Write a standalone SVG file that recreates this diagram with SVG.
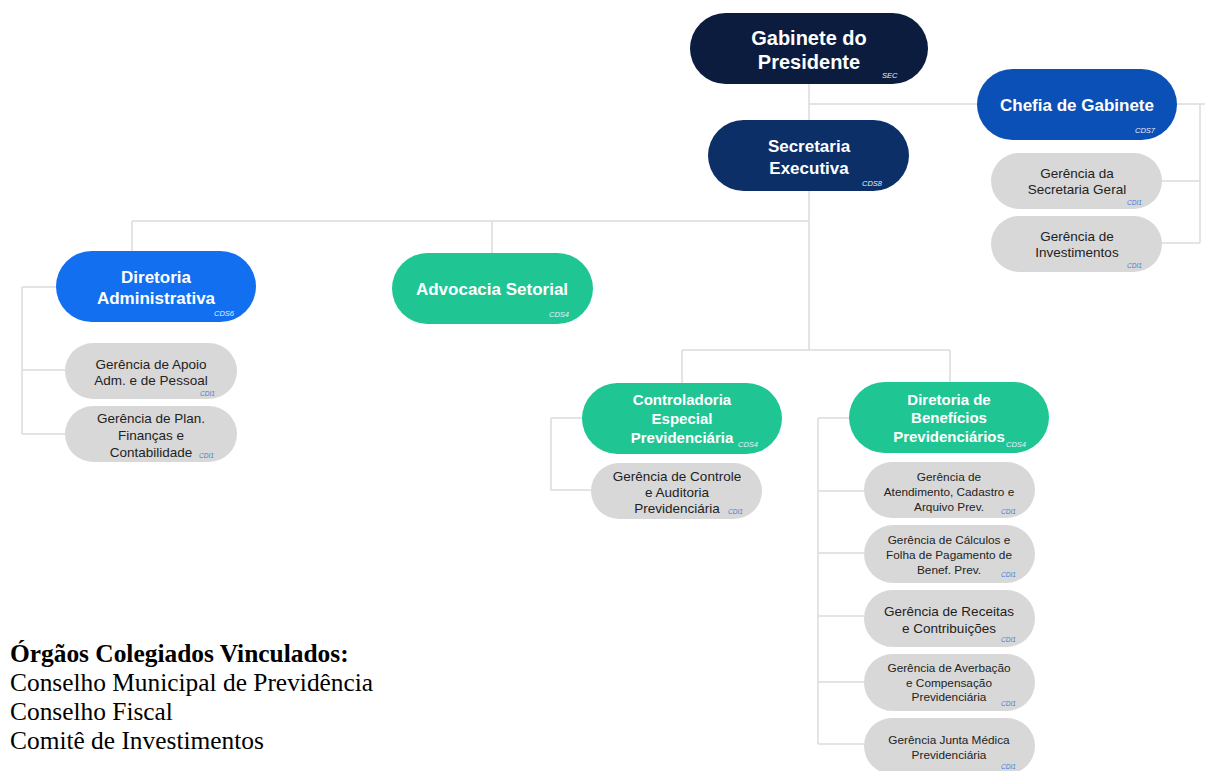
<svg xmlns="http://www.w3.org/2000/svg" width="1205" height="771" viewBox="0 0 1205 771">
<style>
.t{font-family:"Liberation Sans",Arial,sans-serif;font-weight:bold;fill:#fff;text-anchor:middle}
.g{font-family:"Liberation Sans",Arial,sans-serif;fill:#222;text-anchor:middle;font-size:13.5px}
.s{font-size:11.8px}
.c{font-family:"Liberation Sans",Arial,sans-serif;font-style:italic;font-size:7.5px;fill:#e8eefc}
.ci{font-family:"Liberation Sans",Arial,sans-serif;font-style:italic;font-size:6.5px;fill:#3b7fd8}
.ln{stroke:#dcdcdc;stroke-width:1.5;fill:none}
.gray{fill:#d8d8d8}
.green{fill:#1fc694}
.leg{font-family:"Liberation Serif","Times New Roman",serif;font-size:25.4px;fill:#000}
</style>
<rect width="1205" height="771" fill="#fff"/>
<g id="connectors" class="ln">
<path d="M809 84V120M809 104H977M1177 104H1205M1162 181H1200M1162 243H1200M1200 104V243"/>
<path d="M809 191V350M132 221H809M132 221V251M492 221V253"/>
<path d="M22 287H56M22 287V434M22 370H65M22 434H65"/>
<path d="M682 350H950M682 350V383M950 350V382"/>
<path d="M551 418H582M551 418V490H591"/>
<path d="M818 418H849M818 418V744M818 491H864M818 553H864M818 616H864M818 682H864M818 744H864"/>
</g>
<g id="gabinete">
<rect x="690" y="13" width="238" height="71" rx="35.5" fill="#0b1c3e"/>
<text class="t" font-size="20" x="809" y="45">Gabinete do</text>
<text class="t" font-size="20" x="809" y="69">Presidente</text>
<text class="c" x="882" y="78">SEC</text>
</g>
<g id="chefia">
<rect x="977" y="69" width="200" height="71" rx="35.5" fill="#0b50b6"/>
<text class="t" font-size="17" x="1077" y="111">Chefia de Gabinete</text>
<text class="c" x="1135" y="133">CDS7</text>
</g>
<g id="ger-secretaria">
<rect class="gray" x="991" y="153" width="171" height="56" rx="28"/>
<text class="g" x="1077" y="178">Gerência da</text>
<text class="g" x="1077" y="194">Secretaria Geral</text>
<text class="ci" x="1127" y="205">CDI1</text>
</g>
<g id="ger-investimentos">
<rect class="gray" x="991" y="216" width="171" height="56" rx="28"/>
<text class="g" x="1077" y="241">Gerência de</text>
<text class="g" x="1077" y="257">Investimentos</text>
<text class="ci" x="1127" y="268">CDI1</text>
</g>
<g id="secretaria">
<rect x="708" y="120" width="201" height="71" rx="35.5" fill="#0c2f68"/>
<text class="t" font-size="17" x="809" y="152">Secretaria</text>
<text class="t" font-size="17" x="809" y="174">Executiva</text>
<text class="c" x="862" y="186">CDS8</text>
</g>
<g id="dir-adm">
<rect x="56" y="251" width="200" height="71" rx="35.5" fill="#1270f0"/>
<text class="t" font-size="17" x="156" y="283">Diretoria</text>
<text class="t" font-size="17" x="156" y="304">Administrativa</text>
<text class="c" x="214" y="316">CDS6</text>
</g>
<g id="ger-apoio">
<rect class="gray" x="65" y="343" width="172" height="56" rx="28"/>
<text class="g" x="151" y="369">Gerência de Apoio</text>
<text class="g" x="151" y="385">Adm. e de Pessoal</text>
<text class="ci" x="200" y="396">CDI1</text>
</g>
<g id="ger-plan">
<rect class="gray" x="65" y="406" width="172" height="56" rx="28"/>
<text class="g" x="151" y="423">Gerência de Plan.</text>
<text class="g" x="151" y="440">Finanças e</text>
<text class="g" x="151" y="457">Contabilidade</text>
<text class="ci" x="199" y="458">CDI1</text>
</g>
<g id="advocacia">
<rect class="green" x="392" y="253" width="201" height="71" rx="35.5"/>
<text class="t" font-size="17" x="492" y="295">Advocacia Setorial</text>
<text class="c" x="549" y="317">CDS4</text>
</g>
<g id="controladoria">
<rect class="green" x="582" y="383" width="200" height="71" rx="35.5"/>
<text class="t" font-size="15" x="682" y="405">Controladoria</text>
<text class="t" font-size="15" x="682" y="424">Especial</text>
<text class="t" font-size="15" x="682" y="443">Previdenciária</text>
<text class="c" x="738" y="447">CDS4</text>
</g>
<g id="ger-controle">
<rect class="gray" x="591" y="463" width="171" height="56" rx="28"/>
<text class="g" x="677" y="481">Gerência de Controle</text>
<text class="g" x="677" y="497">e Auditoria</text>
<text class="g" x="677" y="513">Previdenciária</text>
<text class="ci" x="728" y="514">CDI1</text>
</g>
<g id="dir-beneficios">
<rect class="green" x="849" y="382" width="200" height="71" rx="35.5"/>
<text class="t" font-size="15" x="949" y="405">Diretoria de</text>
<text class="t" font-size="15" x="949" y="423">Benefícios</text>
<text class="t" font-size="15" x="949" y="442">Previdenciários</text>
<text class="c" x="1006" y="447">CDS4</text>
</g>
<g id="ger-atendimento">
<rect class="gray" x="864" y="462" width="171" height="56" rx="28"/>
<text class="g s" x="949" y="481">Gerência de</text>
<text class="g s" x="949" y="496">Atendimento, Cadastro e</text>
<text class="g s" x="949" y="511">Arquivo Prev.</text>
<text class="ci" x="1001" y="514">CDI1</text>
</g>
<g id="ger-calculos">
<rect class="gray" x="864" y="525" width="171" height="58" rx="29"/>
<text class="g s" x="949" y="544">Gerência de Cálculos e</text>
<text class="g s" x="949" y="559">Folha de Pagamento de</text>
<text class="g s" x="949" y="574">Benef. Prev.</text>
<text class="ci" x="1001" y="577">CDI1</text>
</g>
<g id="ger-receitas">
<rect class="gray" x="864" y="590" width="171" height="57" rx="28.5"/>
<text class="g" x="949" y="616">Gerência de Receitas</text>
<text class="g" x="949" y="633">e Contribuições</text>
<text class="ci" x="1001" y="642">CDI1</text>
</g>
<g id="ger-averbacao">
<rect class="gray" x="864" y="654" width="171" height="57" rx="28.5"/>
<text class="g s" x="949" y="672">Gerência de Averbação</text>
<text class="g s" x="949" y="687">e Compensação</text>
<text class="g s" x="949" y="701">Previdenciária</text>
<text class="ci" x="1001" y="706">CDI1</text>
</g>
<g id="ger-junta">
<rect class="gray" x="864" y="718" width="171" height="56" rx="28"/>
<text class="g s" x="949" y="744">Gerência Junta Médica</text>
<text class="g s" x="949" y="759">Previdenciária</text>
<text class="ci" x="1001" y="769">CDI1</text>
</g>
<g id="legenda">
<text class="leg" x="10" y="662" font-weight="bold">Órgãos Colegiados Vinculados:</text>
<text class="leg" x="10" y="691">Conselho Municipal de Previdência</text>
<text class="leg" x="10" y="720">Conselho Fiscal</text>
<text class="leg" x="10" y="749">Comitê de Investimentos</text>
</g>
</svg>
